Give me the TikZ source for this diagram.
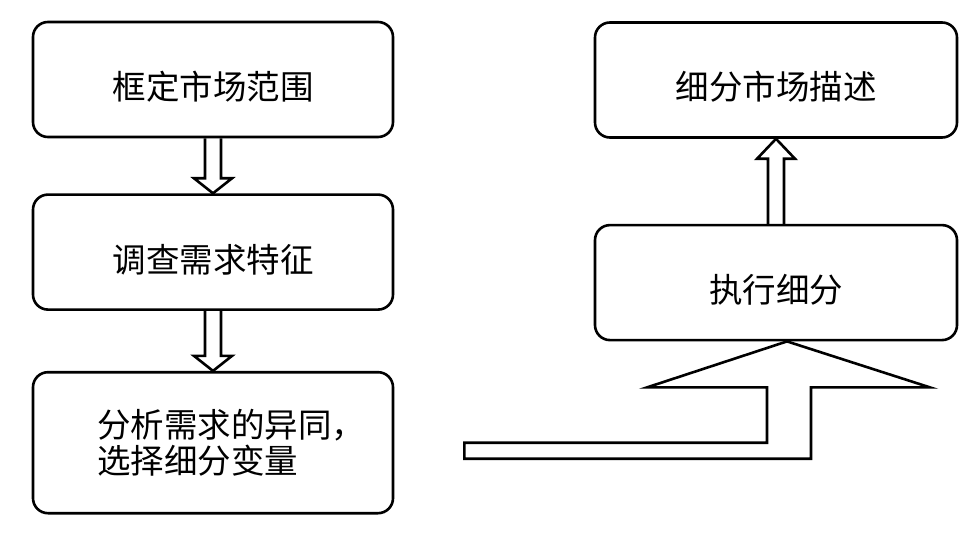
\documentclass[tikz,border=0pt]{standalone}
\usepackage{fontspec}
\newfontfamily\cjk{Noto Sans CJK SC}
\usetikzlibrary{positioning,calc}

\begin{document}
\begin{tikzpicture}[x=1pt,y=1pt, every node/.style={font=\cjk\fontsize{33.5}{36}\selectfont},
  stage/.style={draw=black,line width=2.6pt,rounded corners=15pt,minimum width=360pt,
                minimum height=115pt,align=center,text height=44pt,text depth=4pt},
  hol/.style={draw=black,line width=2.6pt,line join=miter}]
\useasboundingbox (0,0) rectangle (974,-540);

\node[stage] (b1) at (213,-79.5) {框定市场范围};
\node[stage,below=55pt of b1] (b2) {调查需求特征};
\node[stage,below=60pt of b2,minimum height=141pt,text width=232pt,align=left,
      text height=,text depth=] (b3) {分析需求的异同，\\选择细分变量};

\node[stage,minimum width=362pt] (b4) at (776,-80) {细分市场描述};
\node[stage,minimum width=362pt,below=85pt of b4] (b5) {执行细分};

% hollow arrows down the left column
\foreach \a/\b in {b1/b2,b2/b3}
  \draw[hol] ($(\a.south)+(-8,0)$) -- ($(\b.north)+(-8,15)$) -- ++(-11,0) -- (\b.north)
    -- ++(19,15) -- ++(-11,0) -- ($(\a.south)+(8,0)$);

\draw[hol] ($(b5.north)+(-8,0)$) -- ($(b4.south)+(-8,-20)$) -- ++(-11,0) -- (b4.south)
  -- ++(19,-20) -- ++(-11,0) -- ($(b5.north)+(8,0)$);

% the wide bent arrow into b5
\coordinate (tip) at ($(b5.south)+(11,0)$);
\coordinate (tail) at ($(b3.east)+(70,-8)$);
\draw[hol] (tip) -- ++(143,-46) -- ++(-119,0) -- ($(tip |- tail)+(24,-8)$)
  -- ($(tail)+(0,-8)$) -- ($(tail)+(0,8)$) -- ($(tip |- tail)+(-20,8)$)
  -- ($(tip)+(-20,-46)$) -- ($(tip)+(-140,-46)$) -- cycle;
\end{tikzpicture}
\end{document}
